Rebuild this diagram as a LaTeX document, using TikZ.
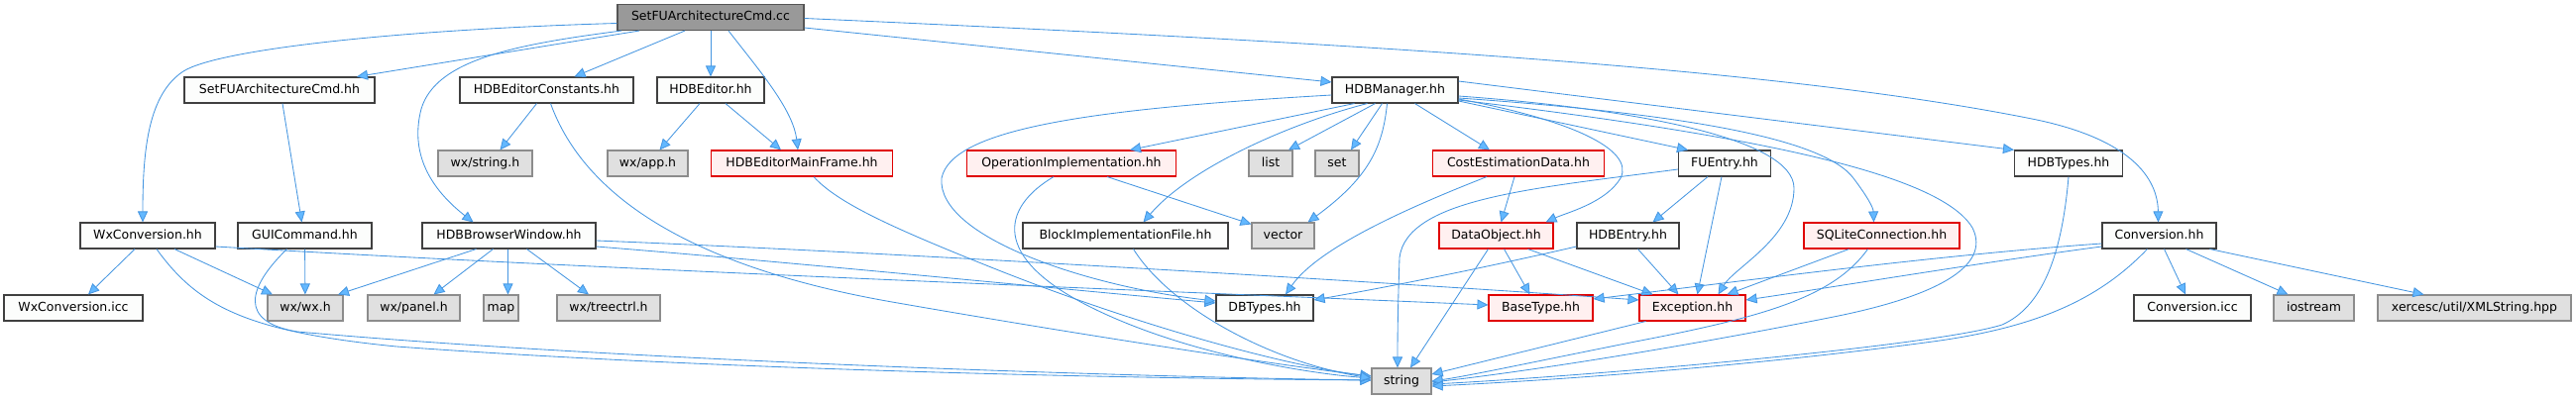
\documentclass[tikz,border=0pt]{standalone}
\usepackage{fontspec}
\setmainfont{DejaVu Sans}
\usetikzlibrary{arrows.meta}
\definecolor{edgec}{RGB}{70,150,225}
\definecolor{tipc}{RGB}{99,184,255}
\definecolor{rootf}{HTML}{999999}
\definecolor{rootd}{HTML}{555555}
\definecolor{nrmf}{HTML}{FCFDFC}
\definecolor{nrmd}{HTML}{404040}
\definecolor{redf}{HTML}{FFF0F0}
\definecolor{redd}{HTML}{E00000}
\definecolor{gryf}{HTML}{E0E0E0}
\definecolor{gryd}{HTML}{8C8C8C}
\tikzset{
  box/.style={rectangle, inner sep=0pt, minimum height=26pt, line width=1.1pt,
    font=\fontsize{12.5}{15}\selectfont, text height=9.5pt, text depth=2.5pt},
  rootbox/.style={box, fill=rootf, draw=rootd},
  nrm/.style={box, fill=nrmf, draw=nrmd},
  redb/.style={box, fill=redf, draw=redd},
  gry/.style={box, fill=gryf, draw=gryd},
  e/.style={draw=edgec, line width=0.85pt, -{Triangle[length=11pt,width=10pt,fill=tipc]}},
}
\begin{document}
\begin{tikzpicture}[x=1pt,y=-1pt]
\useasboundingbox (0,0) rectangle (2599,403);
% row 0
\node[rootbox, minimum width=188pt] (R) at (717,17.5) {SetFUArchitectureCmd.cc};
% row 1
\node[nrm, minimum width=192pt] (SFh) at (282,91) {SetFUArchitectureCmd.hh};
\node[nrm, minimum width=175pt] (K) at (551.5,91) {HDBEditorConstants.hh};
\node[nrm, minimum width=108pt] (Ed) at (717,91) {HDBEditor.hh};
\node[nrm, minimum width=127pt] (M) at (1407.5,91) {HDBManager.hh};
% row 2
\node[gry, minimum width=95pt] (wxs) at (489.5,165) {wx/string.h};
\node[gry, minimum width=81pt] (wxa) at (653.5,165) {wx/app.h};
\node[redb, minimum width=183pt] (MF) at (809,165) {HDBEditorMainFrame.hh};
\node[redb, minimum width=211pt] (O) at (1081,165) {OperationImplementation.hh};
\node[gry, minimum width=44pt] (list) at (1282,165) {list};
\node[gry, minimum width=44pt] (set) at (1349,165) {set};
\node[redb, minimum width=173pt] (C) at (1532,165) {CostEstimationData.hh};
\node[nrm, minimum width=93pt] (F) at (1740,165) {FUEntry.hh};
\node[nrm, minimum width=109pt] (HT) at (2087,165) {HDBTypes.hh};
% row 3
\node[nrm, minimum width=136pt] (W) at (149,238) {WxConversion.hh};
\node[nrm, minimum width=135pt] (G) at (307.5,238) {GUICommand.hh};
\node[nrm, minimum width=175pt] (H) at (513.5,238) {HDBBrowserWindow.hh};
\node[nrm, minimum width=207pt] (B) at (1135.5,238) {BlockImplementationFile.hh};
\node[gry, minimum width=63pt] (vec) at (1294.5,238) {vector};
\node[redb, minimum width=115pt] (D) at (1509.5,238) {DataObject.hh};
\node[nrm, minimum width=103pt] (E) at (1642.5,238) {HDBEntry.hh};
\node[redb, minimum width=157pt] (S) at (1898.5,238) {SQLiteConnection.hh};
\node[nrm, minimum width=115pt] (CV) at (2178.5,238) {Conversion.hh};
% row 4
\node[nrm, minimum width=140pt] (Wi) at (74,311) {WxConversion.icc};
\node[gry, minimum width=76pt] (wxw) at (308,311) {wx/wx.h};
\node[gry, minimum width=93pt] (wxp) at (417.5,311) {wx/panel.h};
\node[gry, minimum width=35pt] (map) at (505.5,311) {map};
\node[gry, minimum width=104pt] (wxt) at (614,311) {wx/treectrl.h};
\node[nrm, minimum width=98pt] (DB) at (1276,311) {DBTypes.hh};
\node[redb, minimum width=105pt] (BT) at (1554.5,311) {BaseType.hh};
\node[redb, minimum width=107pt] (X) at (1707.5,311) {Exception.hh};
\node[nrm, minimum width=118pt] (CI) at (2212,311) {Conversion.icc};
\node[gry, minimum width=81pt] (io) at (2334.5,311) {iostream};
\node[gry, minimum width=195pt] (xs) at (2496.5,311) {xercesc/util/XMLString.hpp};
% row 5
\node[gry, minimum width=60pt] (str) at (1414,385) {string};

% edges from root
\draw[e] ([xshift=-72pt]R.south) -- ([xshift=78pt]SFh.north);
\draw[e] ([xshift=-26pt]R.south) -- ([xshift=28pt]K.north);
\draw[e] (R) -- (Ed);
\draw[e] ([xshift=18pt]R.south) .. controls (765,70) and (800,110) .. ([xshift=-4pt]MF.north);
\draw[e] ([yshift=-6pt]R.west) .. controls (400,30) and (220,50) .. (185,72) .. controls (150,95) and (144,150) .. ([xshift=-5pt]W.north);
\draw[e] ([xshift=-90pt]R.south) .. controls (520,45) and (440,60) .. (425,110) .. controls (412,160) and (440,195) .. ([xshift=-36pt]H.north);
\draw[e] ([yshift=-10.5pt]R.east) -- ([yshift=8pt]M.west);
\draw[e] ([yshift=-1pt]R.east) .. controls (1400,45) and (1800,70) .. (2050,120) .. controls (2150,140) and (2177,180) .. ([xshift=-1pt]CV.north);
% row 1 sources
\draw[e] ([xshift=3pt]SFh.south) -- ([xshift=-3pt]G.north);
\draw[e] ([xshift=-10pt]K.south) -- ([xshift=15pt]wxs.north);
\draw[e] ([xshift=4pt]K.south) .. controls (590,200) and (700,270) .. (900,305) .. controls (1100,340) and (1300,370) .. ([yshift=5pt]str.west);
\draw[e] ([xshift=-11pt]Ed.south) -- ([xshift=12pt]wxa.north);
\draw[e] ([xshift=15pt]Ed.south) -- ([xshift=-21pt]MF.north);
\draw[e] ([xshift=12pt]MF.south) .. controls (845,205) and (900,230) .. (1000,270) .. controls (1150,330) and (1300,370) .. ([yshift=5pt]str.west);
% WxConversion, GUICommand, HDBBrowserWindow
\draw[e] ([xshift=-13pt]W.south) -- ([xshift=15pt]Wi.north);
\draw[e] ([xshift=27pt]W.south) -- ([xshift=-33pt]wxw.north);
\draw[e] ([xshift=9pt]W.south) .. controls (200,310) and (250,335) .. (400,350) .. controls (700,372) and (1100,382) .. ([yshift=1pt]str.west);
\draw[e] ([yshift=-11pt]W.east) .. controls (600,272) and (1200,295) .. ([yshift=3pt]BT.west);
\draw[e] (G) -- (wxw);
\draw[e] ([xshift=-18pt]G.south) .. controls (250,290) and (240,325) .. (300,335) .. controls (600,362) and (1100,380) .. ([yshift=1pt]str.west);
\draw[e] ([xshift=-33pt]H.south) -- ([xshift=33pt]wxw.north);
\draw[e] ([xshift=-16pt]H.south) -- ([xshift=20pt]wxp.north);
\draw[e] ([xshift=-1pt]H.south) -- ([xshift=7pt]map.north);
\draw[e] ([xshift=18pt]H.south) -- ([xshift=-20pt]wxt.north);
\draw[e] ([yshift=-5pt]H.east) .. controls (900,255) and (1400,285) .. ([yshift=8pt]X.west);
\draw[e] ([yshift=-11pt]H.east) .. controls (800,265) and (1050,290) .. ([yshift=5pt]DB.west);
% HDBManager
\draw[e] ([xshift=-41pt]M.south) -- ([xshift=59pt]O.north);
\draw[e] ([xshift=-28pt]M.south) .. controls (1300,125) and (1200,170) .. ([xshift=18pt]B.north);
\draw[e] ([xshift=-20pt]M.south) -- ([xshift=18pt]list.north);
\draw[e] ([xshift=-13pt]M.south) -- ([xshift=14pt]set.north);
\draw[e] ([xshift=-8pt]M.south) .. controls (1395,150) and (1380,180) .. ([xshift=25pt]vec.north);
\draw[e] ([yshift=-5pt]M.west) .. controls (1100,110) and (960,130) .. (950,180) .. controls (945,240) and (1100,290) .. ([yshift=7pt]DB.west);
\draw[e] ([xshift=20pt]M.south) -- ([xshift=-29pt]C.north);
\draw[e] ([yshift=-9pt]M.east) .. controls (1580,120) and (1650,150) .. (1635,180) .. controls (1620,205) and (1580,215) .. ([xshift=50pt]D.north);
\draw[e] ([yshift=-11pt]M.east) -- ([xshift=-37pt]F.north);
\draw[e] ([yshift=9pt]M.east) -- (HT.north west);
\draw[e] ([yshift=-6pt]M.east) .. controls (1650,110) and (1810,140) .. (1810,190) .. controls (1810,240) and (1750,270) .. ([xshift=26pt]X.north);
\draw[e] ([yshift=-8pt]M.east) .. controls (1700,115) and (1840,140) .. (1870,180) .. controls (1885,200) and (1890,210) .. ([xshift=-8pt]S.north);
\draw[e] ([yshift=-10pt]M.east) .. controls (1800,140) and (1960,180) .. (1990,230) .. controls (2010,270) and (1950,300) .. (1850,320) .. controls (1650,360) and (1500,380) .. ([yshift=-1pt]str.east);
% row 2 sources
\draw[e] ([xshift=36pt]O.south) -- ([yshift=-2pt]vec.north west);
\draw[e] ([xshift=-18pt]O.south) .. controls (1010,210) and (1000,260) .. (1100,310) .. controls (1200,360) and (1330,378) .. ([yshift=3pt]str.west);
\draw[e] ([xshift=8pt]B.south) .. controls (1180,310) and (1280,365) .. ([yshift=3pt]str.west);
\draw[e] ([xshift=-4pt]C.south) -- ([xshift=5pt]D.north);
\draw[e] ([xshift=-32pt]C.south) .. controls (1420,210) and (1330,250) .. ([xshift=21pt]DB.north);
\draw[e] ([xshift=-17pt]F.south) -- ([xshift=25pt]E.north);
\draw[e] ([xshift=-3pt]F.south) -- ([xshift=5pt]X.north);
\draw[e] ([yshift=-6pt]F.west) .. controls (1550,190) and (1420,200) .. (1412,260) .. controls (1410,320) and (1410,350) .. ([xshift=-4pt]str.north);
\draw[e] (HT.south) .. controls (2080,260) and (2060,310) .. (2020,328) .. controls (1950,350) and (1600,380) .. ([yshift=-3pt]str.east);
% row 3 sources
\draw[e] ([xshift=8pt]D.south) -- ([xshift=-11pt]BT.north);
\draw[e] ([xshift=32pt]D.south) -- ([xshift=-40pt]X.north);
\draw[e] ([xshift=-8pt]D.south) -- ([xshift=9pt]str.north);
\draw[e] ([yshift=-11pt]E.west) .. controls (1500,270) and (1400,290) .. ([yshift=8pt]DB.east);
\draw[e] ([xshift=10pt]E.south) -- ([xshift=-14pt]X.north);
\draw[e] ([xshift=-33pt]S.south) -- ([xshift=35pt]X.north);
\draw[e] ([xshift=-14pt]S.south) .. controls (1850,300) and (1780,320) .. (1650,345) .. controls (1550,365) and (1480,380) .. (str.east);
\draw[e] ([xshift=5pt]CV.south) -- ([xshift=-7pt]CI.north);
\draw[e] ([xshift=27pt]CV.south) -- ([xshift=-26pt]io.north);
\draw[e] ([xshift=51pt]CV.south) -- ([xshift=-51pt]xs.north);
\draw[e] ([yshift=-11pt]CV.west) .. controls (2000,265) and (1850,290) .. ([yshift=8pt]X.east);
\draw[e] ([yshift=-8pt]CV.west) .. controls (1950,258) and (1750,285) .. ([yshift=9pt]BT.east);
\draw[e] ([xshift=-12pt]CV.south) .. controls (2120,300) and (2060,330) .. (1950,345) .. controls (1750,372) and (1550,385) .. ([yshift=-5pt]str.east);
% row 4 source
\draw[e] ([xshift=-47pt]X.south) -- ([yshift=7pt]str.east);
\end{tikzpicture}
\end{document}
